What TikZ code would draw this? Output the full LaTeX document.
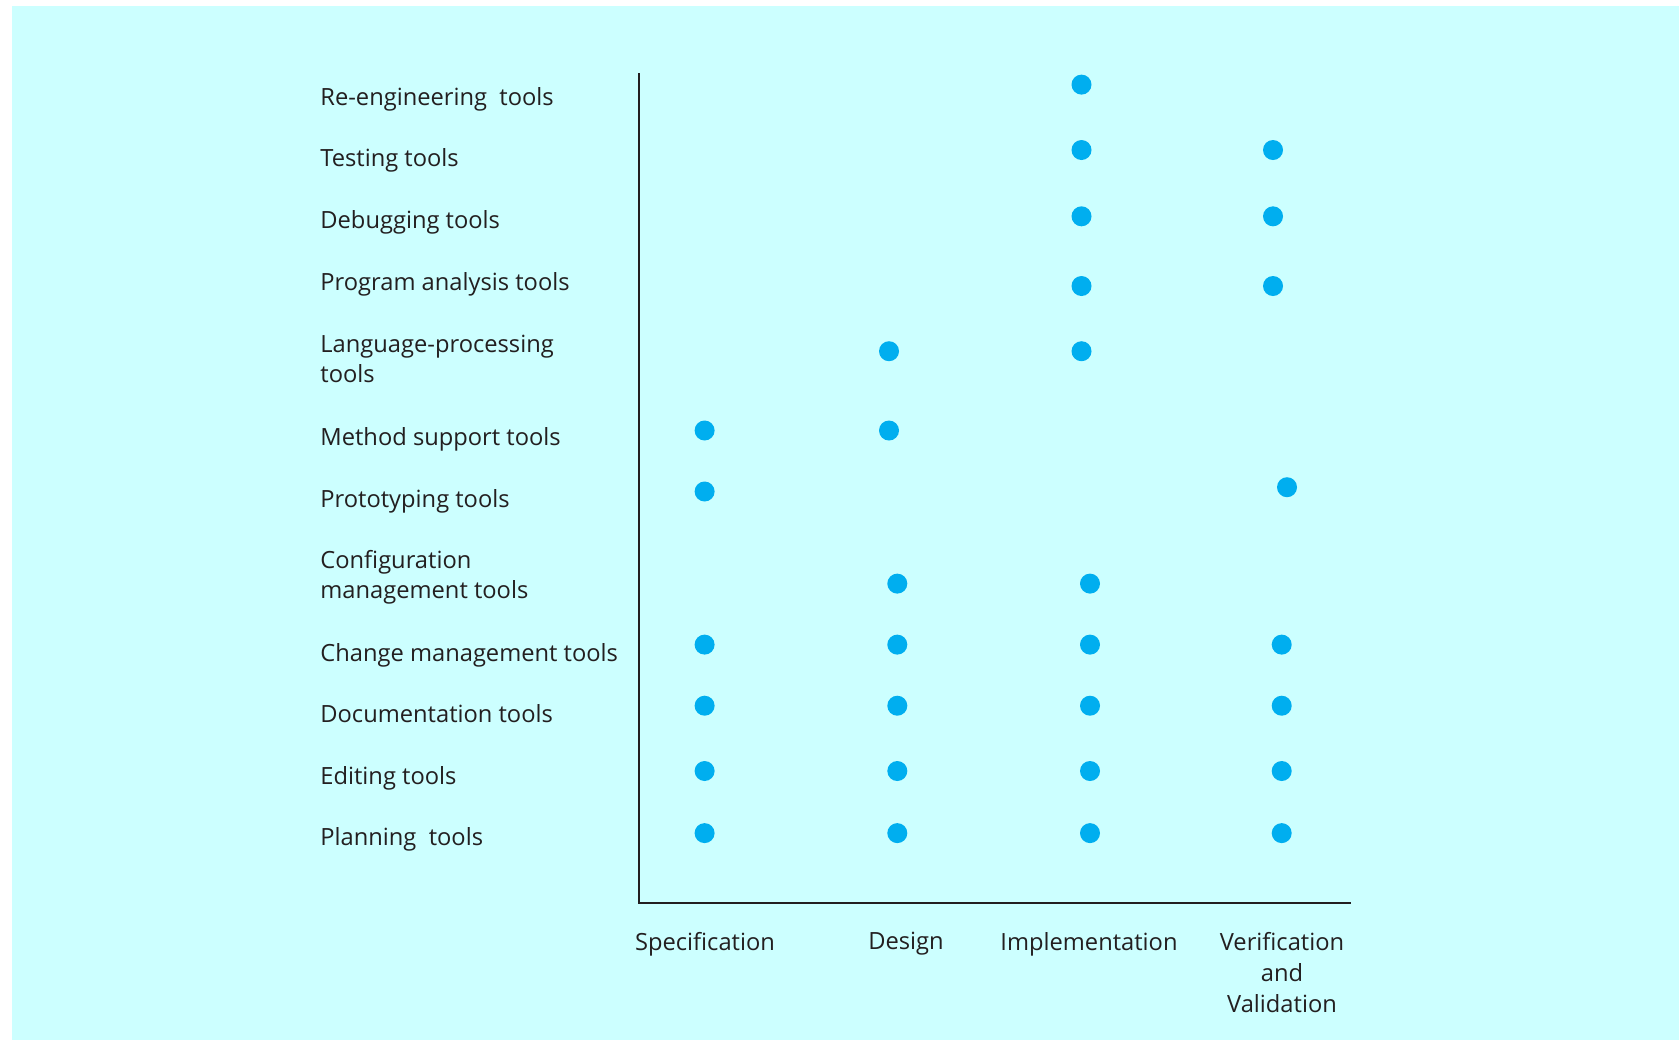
\documentclass[tikz,border=0pt]{standalone}
\usepackage{fontspec}
\setmainfont{Open Sans}
\definecolor{bgc}{HTML}{CCFFFF}
\definecolor{dotc}{HTML}{00AEEF}
\definecolor{txt}{HTML}{231F20}
\begin{document}
\begin{tikzpicture}[x=0.5pt,y=-0.5pt,
  lbl/.style={anchor=west,inner sep=0pt,font=\fontsize{11.85}{15.2}\selectfont,text=txt,align=left},
  clbl/.style={inner sep=0pt,font=\fontsize{11.85}{15.5}\selectfont,text=txt,align=center,anchor=north},
  dotn/.style={circle,fill=dotc,inner sep=0pt,minimum size=10pt}]
\useasboundingbox (0,0) rectangle (1679,1041);
\fill[white] (0,0) rectangle (1679,1041);
\fill[bgc] (12,6) rectangle (1679,1040);
% axes
\coordinate (top) at (639,73);
\coordinate (orig) at (639,903);
\coordinate (right) at (1351,903);
\draw[line width=0.9pt,txt] (top) -- (orig) -- (right);
% row labels
\node[lbl] (r1) at (320,99) {Re-engineering\ \ tools};
\node[lbl] (r2) at (320,160) {Testing tools};
\node[lbl] (r3) at (320,222) {Debugging tools};
\node[lbl] (r4) at (320,284) {Program analysis tools};
\node[lbl] (r5) at (320,359) {Language-processing\\tools};
\node[lbl] (r6) at (320,439) {Method support tools};
\node[lbl] (r7) at (320,501) {Prototyping tools};
\node[lbl] (r8) at (320,577) {Configuration\\management tools};
\node[lbl] (r9) at (320,655) {Change management tools};
\node[lbl] (r10) at (320,714) {Documentation tools};
\node[lbl] (r11) at (320,778) {Editing tools};
\node[lbl] (r12) at (320,839) {Planning\ \ tools};
% column labels
\node[clbl] (c1) at (705,932) {Specification};
\node[clbl] (c2) at (906,932) {Design};
\node[clbl] (c3) at (1089,932) {Implementation};
\node[clbl] (c4) at (1282,932) {Verification\\and\\Validation};
% dots
\node[dotn] (d1) at (1081.5,84.6) {};
\node[dotn] (d2a) at (1081.5,150) {};
\node[dotn] (d2b) at (1273,150) {};
\node[dotn] (d3a) at (1081.5,216.3) {};
\node[dotn] (d3b) at (1273,216.3) {};
\node[dotn] (d4a) at (1081.5,286) {};
\node[dotn] (d4b) at (1273,286) {};
\node[dotn] (d5a) at (889,351.2) {};
\node[dotn] (d5b) at (1081.5,351.2) {};
\node[dotn] (d6a) at (704.6,430.5) {};
\node[dotn] (d6b) at (889,430.5) {};
\node[dotn] (d7a) at (704.6,491.5) {};
\node[dotn] (d7b) at (1287,487.2) {};
\node[dotn] (d8a) at (897.3,583.6) {};
\node[dotn] (d8b) at (1090,583.6) {};
\foreach \r/\y in {9/644.6,10/705.7,11/771,12/833.1}{
  \node[dotn] (d\r a) at (704.6,\y) {};
  \node[dotn] (d\r b) at (897.3,\y) {};
  \node[dotn] (d\r c) at (1090,\y) {};
  \node[dotn] (d\r d) at (1281.7,\y) {};
}
\end{tikzpicture}
\end{document}
